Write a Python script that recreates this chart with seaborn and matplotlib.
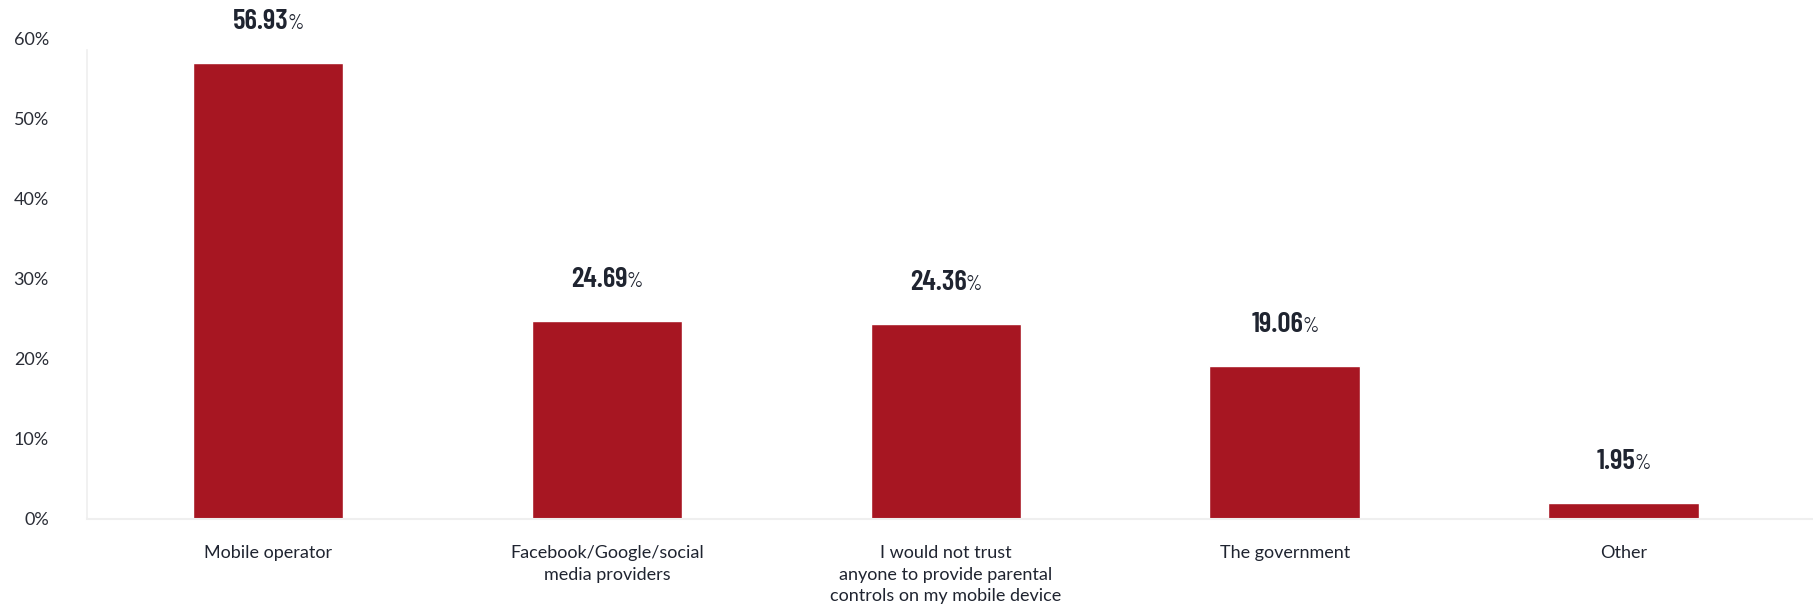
import matplotlib
matplotlib.use("Agg")
import matplotlib.pyplot as plt
import seaborn as sns
import pandas as pd

# Survey results: who respondents would trust to provide parental controls
categories = [
    "Mobile operator",
    "Facebook/Google/social\nmedia providers",
    "I would not trust\nanyone to provide parental\ncontrols on my mobile device",
    "The government",
    "Other",
]
shares = [56.93, 24.69, 24.36, 19.06, 1.95]
y_ticks = [0, 10, 20, 30, 40, 50, 60]
y_tick_labels = ["0%", "10%", "20%", "30%", "40%", "50%", "60%"]

bar_color = "#A71622"
text_color = "#1F2430"
axis_color = "#EFEFEF"
label_font = "Lato"
value_font = "Barlow Condensed"

sns.set_theme(style="white")
plt.rcParams["font.family"] = [label_font, "DejaVu Sans"]

df = pd.DataFrame({"category": categories, "share": shares})

fig = plt.figure(figsize=(18.13, 6.07), dpi=100)
ax = fig.add_axes([0.048, 0.145, 0.952, 0.791])

sns.barplot(data=df, x="category", y="share", color=bar_color,
            width=0.445, saturation=1, ax=ax)

ax.set_xlim(-0.534, 4.558)
ax.set_ylim(0, 60)
ax.set_yticks(y_ticks)
ax.set_yticklabels(y_tick_labels)
ax.set_xlabel("")
ax.set_ylabel("")

for side in ("top", "right"):
    ax.spines[side].set_visible(False)
ax.spines["left"].set_color(axis_color)
ax.spines["left"].set_linewidth(1.2)
ax.spines["left"].set_bounds(0, 58.6)
ax.spines["bottom"].set_color(axis_color)
ax.spines["bottom"].set_linewidth(1.5)

ax.tick_params(axis="y", length=16.5, width=1.5, color=axis_color, pad=11,
               labelsize=13, labelcolor="#2A2D36")
ax.tick_params(axis="x", length=0, pad=19, labelsize=13, labelcolor=text_color)
for lbl in ax.get_xticklabels():
    lbl.set_linespacing(1.4)
    lbl.set_verticalalignment("top")

# Value labels: bold condensed number followed by a smaller, lighter percent sign
fig.canvas.draw()
renderer = fig.canvas.get_renderer()
lift = 34
for i, v in enumerate(shares):
    num = ax.annotate(f"{v:.2f}", xy=(i, v), xytext=(0, lift), textcoords="offset pixels",
                      ha="left", va="baseline", fontsize=21, fontweight="semibold",
                      family=value_font, color=text_color)
    pct = ax.annotate("%", xy=(i, v), xytext=(0, lift), textcoords="offset pixels",
                      ha="left", va="baseline", fontsize=15, fontweight="normal",
                      family=value_font, color=text_color)
    wn = num.get_window_extent(renderer).width - 1
    wp = pct.get_window_extent(renderer).width
    total = wn + wp
    num.set_position((-total / 2, lift))
    pct.set_position((-total / 2 + wn, lift))

fig.savefig("out.png", dpi=100, facecolor="white")
